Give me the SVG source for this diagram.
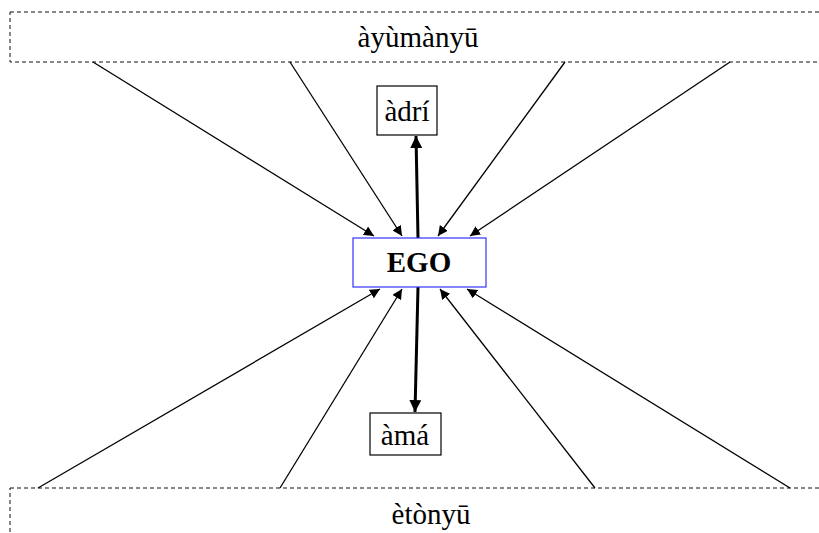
<svg xmlns="http://www.w3.org/2000/svg" width="819" height="533" viewBox="0 0 819 533">
<defs>
<marker id="ah" viewBox="0 0 10 10" refX="10" refY="5" markerWidth="10" markerHeight="10" markerUnits="userSpaceOnUse" orient="auto">
<path d="M0,0 L10,5 L0,10 z" fill="#000"/>
</marker>
<marker id="ahb" viewBox="0 0 10 10" refX="10" refY="5" markerWidth="12" markerHeight="12" markerUnits="userSpaceOnUse" orient="auto">
<path d="M0,0 L10,5 L0,10 z" fill="#000"/>
</marker>
</defs>
<style>
.grp{fill:#fff;stroke:#111;stroke-width:1;stroke-dasharray:4 3}
.box{fill:#fff;stroke:#000;stroke-width:1.2}
.ego{fill:#fff;stroke:#3333ff;stroke-width:1.2}
text{font-family:'Liberation Serif','DejaVu Serif',serif;font-size:29px;fill:#000;text-anchor:middle}
.b{font-weight:bold}
.l{stroke:#000;stroke-width:1.3;fill:none;marker-end:url(#ah)}
.lb{stroke:#000;stroke-width:3;fill:none;marker-end:url(#ahb)}
</style>
<rect width="819" height="533" fill="#fff"/>
<g id="ayumanyu">
<rect class="grp" x="10" y="12" width="830" height="50"/>
<text x="418" y="47" font-size="31">àyùmànyū</text>
</g>
<g id="etonyu">
<rect class="grp" x="10" y="488" width="830" height="60"/>
<text x="431" y="524">ètònyū</text>
</g>
<g id="connectors">
<line class="l" x1="93" y1="62" x2="374" y2="236"/>
<line class="l" x1="290" y1="62" x2="402" y2="236"/>
<line class="l" x1="565" y1="62" x2="438" y2="236"/>
<line class="l" x1="730" y1="62" x2="470" y2="236"/>
<line class="l" x1="38" y1="488" x2="380" y2="289"/>
<line class="l" x1="280" y1="488" x2="402" y2="289"/>
<line class="l" x1="595" y1="488" x2="440" y2="289"/>
<line class="l" x1="790" y1="488" x2="467" y2="289"/>
<line class="lb" x1="418" y1="238" x2="416" y2="136"/>
<line class="lb" x1="418" y1="287" x2="415" y2="412"/>
</g>
<g id="ego">
<rect class="ego" x="353" y="238" width="133" height="49"/>
<text class="b" x="419" y="272">EGO</text>
</g>
<g id="adri">
<rect class="box" x="377" y="86" width="60" height="49"/>
<text x="407" y="121">àdrí</text>
</g>
<g id="ama">
<rect class="box" x="370" y="413" width="71" height="42"/>
<text x="405" y="445">àmá</text>
</g>
</svg>
